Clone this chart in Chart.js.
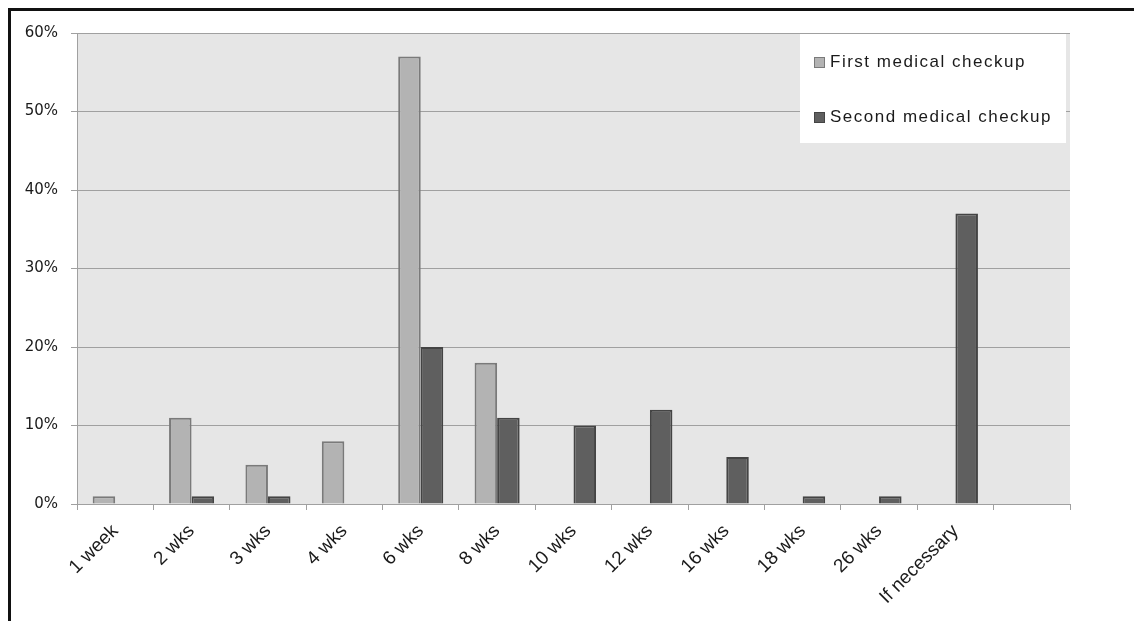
<!DOCTYPE html>
<html>
<head>
<meta charset="utf-8">
<script src="https://cdn.jsdelivr.net/npm/chart.js@4/dist/chart.umd.min.js"></script>
<style>
  html, body { margin: 0; padding: 0; background: #ffffff; }
  canvas { display: block; }
</style>
</head>
<body>
<canvas id="c" width="1134" height="621"></canvas>
<script>
// Interval between medical checkups (share of respondents, %)
const categories = ['1 week', '2 wks', '3 wks', '4 wks', '6 wks', '8 wks', '10 wks', '12 wks', '16 wks', '18 wks', '26 wks', 'If necessary', ''];
const firstCheckup = [1, 11, 5, 8, 57, 18, null, null, null, null, null, null, null];
const secondCheckup = [null, 1, 1, null, 20, 11, 10, 12, 6, 1, 1, 37, null];
const seriesNames = ['First medical checkup', 'Second medical checkup'];
const yTicks = [0, 10, 20, 30, 40, 50, 60];

const FILL_LIGHT = '#b3b3b3', EDGE_LIGHT = '#7a7a7a';
const FILL_DARK = '#5f5f5f', EDGE_DARK = '#444444';

// Grey plot background, outer frame and the in-plot legend box
const decor = {
  id: 'decor',
  beforeDraw(chart) {
    const { ctx, chartArea: a } = chart;
    ctx.save();
    ctx.fillStyle = '#e6e6e6';
    ctx.fillRect(a.left, a.top, a.right - a.left, a.bottom - a.top);
    ctx.restore();
  },
  afterDraw(chart) {
    const { ctx, chartArea: a } = chart;
    ctx.save();
    // frame
    ctx.strokeStyle = '#111111';
    ctx.lineWidth = 3;
    ctx.beginPath();
    ctx.moveTo(9.5, 640);
    ctx.lineTo(9.5, 9.5);
    ctx.lineTo(1140, 9.5);
    ctx.stroke();

    // legend
    const bx = a.right - 270, by = a.top + 1, bw = 266, bh = 109;
    ctx.fillStyle = '#ffffff';
    ctx.fillRect(bx, by, bw, bh);
    ctx.font = '17px "Liberation Sans", Arial, sans-serif';
    ctx.letterSpacing = '1.5px';
    ctx.textBaseline = 'middle';
    ctx.textAlign = 'left';
    chart.data.datasets.forEach((ds, i) => {
      const cy = by + 28 + i * 55;
      ctx.fillStyle = ds.backgroundColor;
      ctx.fillRect(bx + 14, cy - 5, 11, 11);
      ctx.strokeStyle = ds.borderColor;
      ctx.lineWidth = 1;
      ctx.strokeRect(bx + 14.5, cy - 4.5, 10, 10);
      ctx.fillStyle = '#1a1a1a';
      ctx.fillText(ds.label, bx + 30, cy);
    });
    ctx.restore();
  }
};

new Chart(document.getElementById('c'), {
  type: 'bar',
  data: {
    labels: categories,
    datasets: [
      { label: seriesNames[0], data: firstCheckup, backgroundColor: FILL_LIGHT, borderColor: EDGE_LIGHT, borderWidth: 2 },
      { label: seriesNames[1], data: secondCheckup, backgroundColor: FILL_DARK, borderColor: EDGE_DARK, borderWidth: 2 }
    ]
  },
  options: {
    responsive: false,
    animation: false,
    layout: { padding: { top: 33, right: 64, left: 0, bottom: 0 } },
    datasets: { bar: { categoryPercentage: 0.59, barPercentage: 1.0 } },
    plugins: { legend: { display: false }, tooltip: { enabled: false } },
    scales: {
      x: {
        afterFit(s) { s.height = 117; },
        grid: { display: true, drawOnChartArea: false, drawTicks: true, tickLength: 6, color: '#a0a0a0', offset: true },
        border: { display: true, color: '#a0a0a0', width: 1 },
        ticks: {
          minRotation: 45, maxRotation: 45, autoSkip: false, padding: 10,
          color: '#1a1a1a',
          font: { family: '"Liberation Sans", Arial, sans-serif', size: 19 }
        }
      },
      y: {
        min: 0, max: 60,
        afterFit(s) { s.width = 77; },
        afterBuildTicks(s) { s.ticks = yTicks.map(v => ({ value: v })); },
        grid: { color: '#a0a0a0', lineWidth: 1, drawTicks: true, tickLength: 6 },
        border: { display: true, color: '#a0a0a0', width: 1 },
        ticks: {
          padding: 13,
          color: '#1a1a1a',
          font: { family: '"DejaVu Sans", Verdana, sans-serif', size: 15 },
          callback: v => v + '%'
        }
      }
    }
  },
  plugins: [decor]
});
</script>
</body>
</html>
